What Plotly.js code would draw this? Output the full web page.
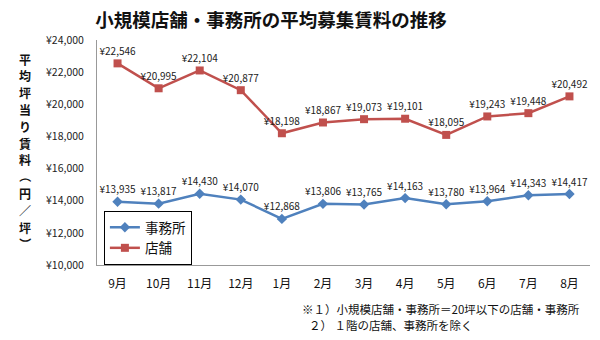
<!DOCTYPE html>
<html><head><meta charset="utf-8">
<script src="https://cdn.plot.ly/plotly-3.0.1.min.js"></script>
<style>html,body{margin:0;padding:0;background:#fff}#c{width:600px;height:340px}</style>
</head><body><div id="c"></div>
<script>
const months = ["9月","10月","11月","12月","1月","2月","3月","4月","5月","6月","7月","8月"];
const office = [13935,13817,14430,14070,12868,13806,13765,14163,13780,13964,14343,14417];
const shop = [22546,20995,22104,20877,18198,18867,19073,19101,18095,19243,19448,20492];
const yTicks = [10000,12000,14000,16000,18000,20000,22000,24000];
const fmt = v => "¥" + v.toLocaleString("en-US");
const F = "'Noto Sans CJK JP', 'Noto Sans', sans-serif";
const yTitle = "平均坪当り賃料（円／坪）";

const traces = [
  {x: months, y: office, name: "事務所", type: "scatter", mode: "lines+markers+text",
   line: {color: "#4F81BD", width: 2.5}, marker: {symbol: "diamond", size: 8, color: "#4F81BD"},
   text: office.map(fmt), textposition: "top center", textfont: {size: 10, color: "#222", family: F},
   cliponaxis: false},
  {x: months, y: shop, name: "店舗", type: "scatter", mode: "lines+markers+text",
   line: {color: "#C0504D", width: 2.5}, marker: {symbol: "square", size: 8, color: "#C0504D"},
   text: shop.map(fmt), textposition: "top center", textfont: {size: 10, color: "#222", family: F},
   cliponaxis: false}
];

// vertical y-axis title: one annotation per character
const chars = yTitle.split("");
const step = 16.8, yTop = 59, plotTop = 40, plotH = 225;
const titleAnns = chars.map((ch, i) => ({
  text: "<b>" + ch + "</b>", xref: "paper", yref: "paper",
  x: (25 - 97) / 493, y: 1 - (yTop + i * step - plotTop) / plotH,
  xanchor: "center", yanchor: "middle", showarrow: false, borderpad: 0,
  textangle: (ch === "（" || ch === "）") ? 90 : 0,
  font: {size: 12, color: "#111"}
}));

const layout = {
  width: 600, height: 340,
  margin: {l: 97, r: 10, t: 40, b: 75},
  paper_bgcolor: "#fff", plot_bgcolor: "#fff",
  font: {family: F, color: "#222"},
  title: {text: "<b>小規模店舗・事務所の平均募集賃料の推移</b>", x: 271 / 600, xanchor: "center", y: 0.94, yanchor: "middle",
          font: {size: 18.5, color: "#111", family: F}},
  xaxis: {type: "category", range: [-0.5, 11.5], showgrid: false, zeroline: false,
          showline: true, linecolor: "#999", linewidth: 1, ticks: "", tickfont: {size: 12, color: "#111"}, ticklabelstandoff: 8},
  yaxis: {range: [10000, 24000], tickvals: yTicks, ticktext: yTicks.map(fmt), showgrid: false, zeroline: false,
          showline: true, linecolor: "#999", linewidth: 1, ticks: "", tickfont: {size: 10.5, color: "#222"}, ticklabelstandoff: 10},
  showlegend: true,
  legend: {x: 0.014, y: 0.24, xanchor: "left", yanchor: "top", bordercolor: "#000", borderwidth: 1,
           bgcolor: "#fff", font: {size: 13.5, color: "#111"}, tracegroupgap: 0, itemwidth: 30},
  annotations: titleAnns.concat([
    {text: "※１）小規模店舗・事務所＝20坪以下の店舗・事務所", xref: "paper", yref: "paper", x: (582 - 97) / 493, y: -0.196,
     xanchor: "right", yanchor: "middle", showarrow: false, font: {size: 11.5, color: "#111"}},
    {text: "２） １階の店舗、事務所を除く", xref: "paper", yref: "paper", x: (307 - 97) / 493, y: -0.267,
     xanchor: "left", yanchor: "middle", showarrow: false, font: {size: 11.5, color: "#111"}}
  ])
};
Plotly.newPlot("c", traces, layout, {displayModeBar: false, staticPlot: true});
</script></body></html>
